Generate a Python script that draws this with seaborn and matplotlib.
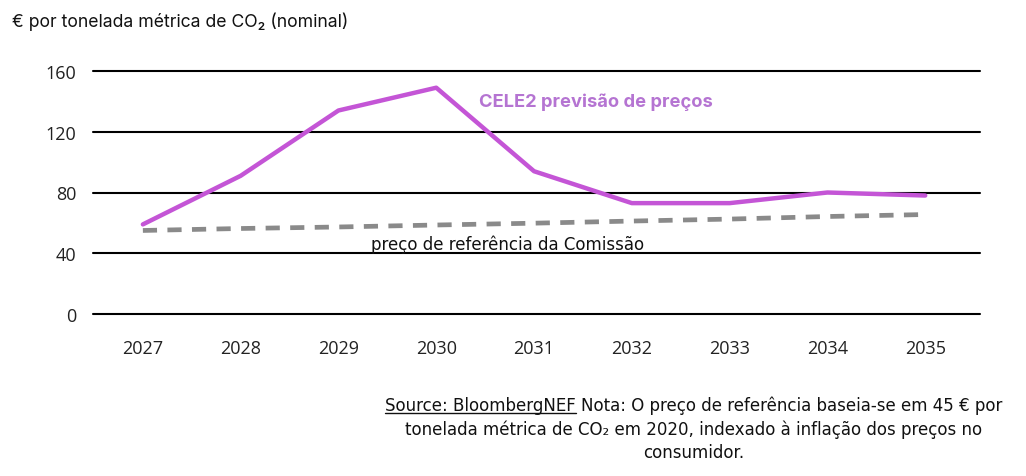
import matplotlib
matplotlib.use("Agg")
import matplotlib.pyplot as plt
import seaborn as sns
import pandas as pd
from matplotlib.lines import Line2D

years = [2027, 2028, 2029, 2030, 2031, 2032, 2033, 2034, 2035]
eua2_forecast = [59, 91, 134, 149, 94, 73, 73, 80, 78]
commission_ref = [55, 56.3, 57.3, 58.6, 59.8, 61.2, 62.5, 64.2, 65.5]
y_ticks = [0, 40, 80, 120, 160]

title_text = "€ por tonelada métrica de CO₂ (nominal)"
forecast_label = "CELE2 previsão de preços"
ref_label = "preço de referência da Comissão"
source_text = "Source: BloombergNEF"
note_line1 = " Nota: O preço de referência baseia-se em 45 € por"
note_line2 = "tonelada métrica de CO₂ em 2020, indexado à inflação dos preços no"
note_line3 = "consumidor."

sns.set_theme(style="white")
plt.rcParams['font.family'] = ['Inter', 'DejaVu Sans']

df = pd.DataFrame({"year": years + years,
                   "value": eua2_forecast + commission_ref,
                   "series": [forecast_label] * len(years) + [ref_label] * len(years)})

fig = plt.figure(figsize=(10.26, 4.77), dpi=100)
ax = fig.add_axes([93 / 1026, 1 - 315 / 477, (980 - 93) / 1026, (315 - 72) / 477])

sns.lineplot(data=df[df.series == forecast_label], x="year", y="value", ax=ax,
             color="#c455d6", lw=3.2, legend=False, zorder=3)
sns.lineplot(data=df[df.series == ref_label], x="year", y="value", ax=ax,
             color="#8a8a8a", lw=3.4, legend=False, zorder=3)
ax.lines[1].set_dashes([3, 2.2])

ax.set_xlim(2026.49, 2035.56)
ax.set_ylim(0, 160)
ax.set_yticks(y_ticks)
ax.set_xticks(years)
ax.set_xlabel("")
ax.set_ylabel("")
for s in ax.spines.values():
    s.set_visible(False)
for yv in y_ticks:
    ax.axhline(yv, color="black", lw=1.5, zorder=1, clip_on=False)
ax.tick_params(axis="both", length=0, labelsize=13, labelcolor="#222222")
ax.tick_params(axis="y", pad=12)
ax.tick_params(axis="x", pad=18)
for lab in ax.get_xticklabels() + ax.get_yticklabels():
    lab.set_family(['Open Sans', 'DejaVu Sans'])

fig.text(12 / 1026, 1 - 22 / 477, title_text, fontsize=12.7, va="center", ha="left", color="#111111")

ax.text(2030.44, 140, forecast_label, color="#b574d2", fontsize=13.2, fontweight="bold",
        ha="left", va="center")
ax.text(2029.33, 46.5, ref_label, color="#111111", fontsize=12, ha="left", va="center",
        family=['Liberation Sans Narrow', 'DejaVu Sans'])

note_font = dict(fontsize=12, color="#111111", family=['Liberation Sans Narrow', 'DejaVu Sans'])
cx = 694 / 1026
t1 = fig.text(cx, 1 - 406 / 477, source_text + note_line1, ha="center", va="center", **note_font)
fig.text(cx, 1 - 430 / 477, note_line2, ha="center", va="center", **note_font)
fig.text(cx, 1 - 453 / 477, note_line3, ha="center", va="center", **note_font)

fig.canvas.draw()
r = fig.canvas.get_renderer()
bb = t1.get_window_extent(r)
tmp = fig.text(0, 0, source_text, **note_font)
w = tmp.get_window_extent(r).width
tmp.remove()
x0 = bb.x0 / fig.bbox.width
x1 = (bb.x0 + w) / fig.bbox.width
yl = (bb.y0 + 1) / fig.bbox.height
fig.add_artist(Line2D([x0, x1], [yl, yl], transform=fig.transFigure, color="#111111", lw=1))

fig.savefig("out.png", dpi=100)
